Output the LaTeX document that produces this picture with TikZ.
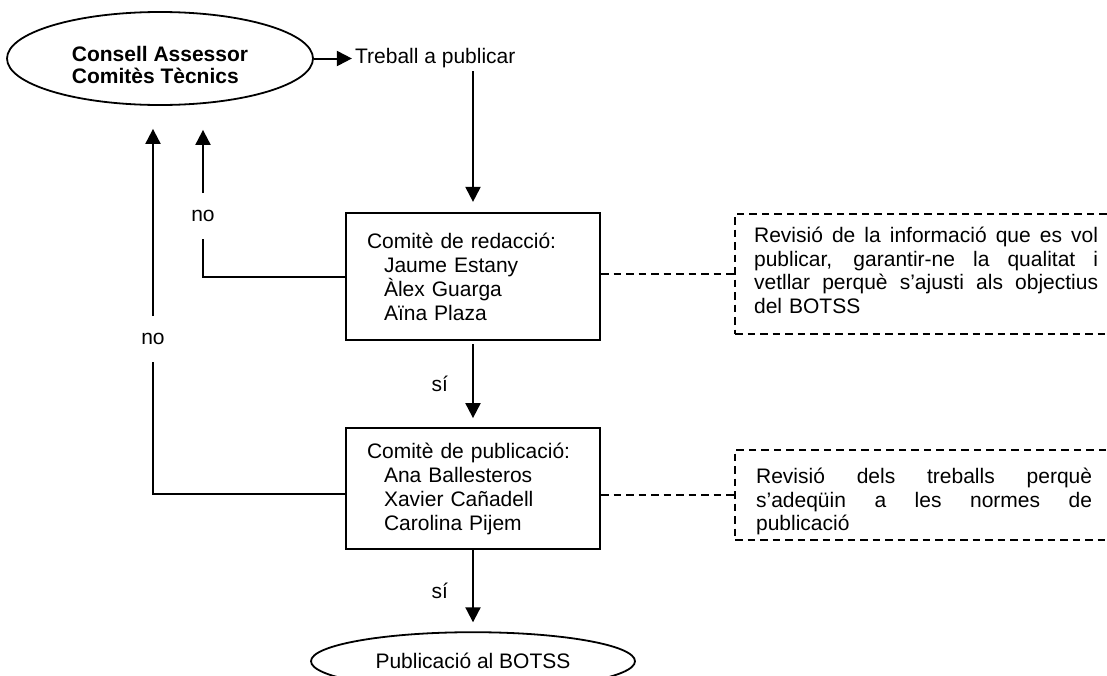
\documentclass[tikz,border=0pt]{standalone}
\usepackage{fontspec}
\setmainfont{Liberation Sans}
\usetikzlibrary{positioning,shapes.geometric,arrows.meta}
\newcommand{\liniajust}[2]{{\spaceskip=5.8pt plus 40pt\relax\makebox[#1][s]{#2}}}

\begin{document}
\begin{tikzpicture}
            [x=1pt,y=-1pt,
             every node/.style={font=\fontsize{21pt}{24pt}\selectfont},
             el/.style={ellipse,draw,line width=1.8pt,inner sep=0pt},
             caixa/.style={rectangle,draw,line width=2.2pt,text width=212pt,inner xsep=21pt,align=left},
             nota/.style={rectangle,draw,line width=2pt,dash pattern=on 7.5pt off 5pt,align=left,
                          font=\fontsize{21pt}{23.5pt}\selectfont},
             etiqueta/.style={inner xsep=2pt,inner ysep=17pt},
             linia/.style={line width=2pt},
             fletxa/.style={line width=2pt,-{Triangle[length=15pt,width=15pt]}},
             puntejat/.style={line width=2pt,dash pattern=on 7.5pt off 5pt}]
            \useasboundingbox (0,0) rectangle (1107,675);
            \node[el,minimum width=306pt,minimum height=93pt,align=left,
                  font=\fontsize{21pt}{22pt}\selectfont\bfseries](consell) at (160,58.5)
                {\rule{0pt}{29pt}Consell Assessor\\Comitès Tècnics};
            \node[inner sep=3pt](treball)[right=38pt of consell] {Treball a publicar};
            \node[caixa,minimum height=127pt](redaccio) at (473,276.5) {Comitè de redacció:\\
                \hspace*{17pt}Jaume Estany\\\hspace*{17pt}Àlex Guarga\\\hspace*{17pt}Aïna Plaza};
            \node[caixa,minimum height=121pt](publicacio)[below=86pt of redaccio] {Comitè de publicació:\\
                \hspace*{17pt}Ana Ballesteros\\\hspace*{17pt}Xavier Cañadell\\\hspace*{17pt}Carolina Pijem};
            \node[el,minimum width=324pt,minimum height=58pt](botss)[below=81pt of publicacio] {Publicació al BOTSS};
            \node[nota,text width=344pt,inner xsep=19pt,minimum height=120pt](objectius)[right=133pt of redaccio,yshift=3pt]
                {\liniajust{344pt}{Revisió de la informació que es vol}\\
                 \liniajust{344pt}{publicar, garantir-ne la qualitat i}\\
                 \liniajust{344pt}{vetllar perquè s’ajusti als objectius}\\
                 del BOTSS\rule[-6pt]{0pt}{6pt}};
            \node[nota,text width=336pt,inner xsep=21pt,minimum height=90pt](normes)[right=133pt of publicacio,yshift=-6pt]
                {\rule{0pt}{29.5pt}\liniajust{336pt}{Revisió dels treballs perquè}\\
                 \liniajust{336pt}{s’adeqüin a les normes de}\\
                 publicació};
            \node[etiqueta](no1) at (203,216) {no};
            \node[etiqueta](no2) at (153,339) {no};
            \draw[fletxa] (consell.east) -- (treball.west);
            \draw[fletxa,shorten >=10pt] (treball.south -| redaccio.north) -- (redaccio.north);
            \draw[fletxa,shorten <=3pt,shorten >=9pt] (redaccio) -- node[inner sep=3pt,left=21pt]{sí} (publicacio);
            \draw[fletxa,shorten >=9pt] (publicacio) -- node[inner sep=3pt,left=21pt]{sí} (botss);
            \draw[linia] (redaccio.west) -| (no1.south);
            \draw[fletxa,shorten >=24pt] (no1.north) -- (no1.north |- consell.south);
            \draw[linia] ([yshift=-5pt]publicacio.west) -| (no2.south);
            \draw[fletxa,shorten >=23pt] (no2.north) -- (no2.north |- consell.south);
            \draw[puntejat] (redaccio.east |- objectius.west) -- (objectius.west);
            \draw[puntejat] (publicacio.east |- normes.west) -- (normes.west);
        \end{tikzpicture}
\end{document}
